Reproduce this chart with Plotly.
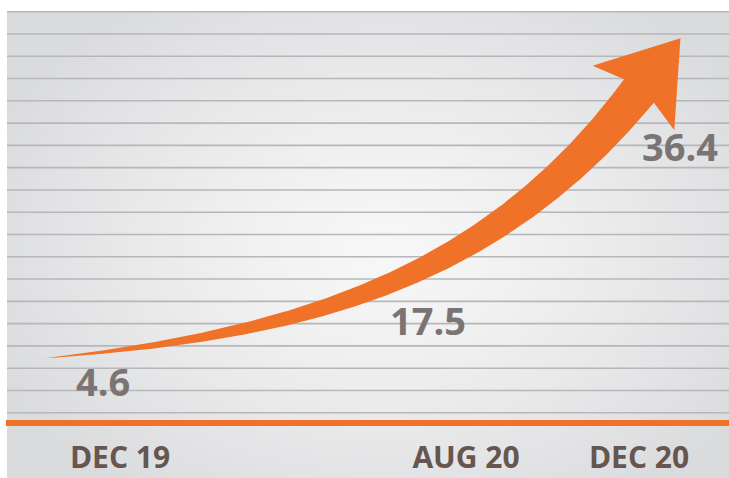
import base64
import struct
import zlib

import numpy as np
import pandas as pd
import plotly.graph_objects as go

# ---- data -------------------------------------------------------------
dates = ["2019-12-01", "2020-08-01", "2020-12-01"]
periods = ["DEC 19", "AUG 20", "DEC 20"]
values = [4.6, 17.5, 36.4]

# ---- canvas / scales ----------------------------------------------------
W, H = 729, 478
MARGIN_B = 55
PH = H - MARGIN_B                      # plot-area height in px

T0 = pd.Timestamp(dates[0])
X0_PX, KX = 120.0, 519.0 / 366.0       # px of first date, px per day
YR = [-4.36, 47.57]                    # y-axis range (value)
XR_DAYS = [-X0_PX / KX, (W - X0_PX) / KX]
XR = [str(T0 + pd.to_timedelta(d, unit="D")) for d in XR_DAYS]

ORANGE = "#f07229"
GRID = "#b7b6b8"
LABEL_DARK = "#66564f"
LABEL_GREY = "#7a7573"


def day_offsets(ts):
    return np.asarray((pd.to_datetime(ts) - T0) / pd.Timedelta(days=1), float)


def to_px(days, v):
    px = X0_PX + np.asarray(days, float) * KX
    py = (YR[1] - np.asarray(v, float)) / (YR[1] - YR[0]) * PH
    return px, py


def from_px(px, py):
    days = (np.asarray(px) - X0_PX) / KX
    v = YR[1] - np.asarray(py) / PH * (YR[1] - YR[0])
    return T0 + pd.to_timedelta(days, unit="D"), v


# ---- arrow: exponential growth curve through the three points ------------
ppx, ppy = to_px(day_offsets(dates), values)


def grow(L, x):
    return np.exp((np.asarray(x) - ppx[0]) / L)


ratio = (ppy[1] - ppy[2]) / (ppy[0] - ppy[1])
lo, hi = 20.0, 20000.0
for _ in range(200):
    L = 0.5 * (lo + hi)
    g = (grow(L, ppx[2]) - grow(L, ppx[1])) / (grow(L, ppx[1]) - grow(L, ppx[0]))
    if g > ratio:
        lo = L
    else:
        hi = L
A = (ppy[0] - ppy[1]) / (grow(L, ppx[1]) - grow(L, ppx[0]))
c0 = ppy[0] + A * grow(L, ppx[0])

xs = np.linspace(ppx[0] - 75.0, ppx[2], 400)
centre = np.column_stack([xs, c0 - A * grow(L, xs)])

d = np.gradient(centre, axis=0)
d /= np.linalg.norm(d, axis=1)[:, None]
normal = np.column_stack([d[:, 1], -d[:, 0]])
arc = np.concatenate([[0], np.cumsum(np.linalg.norm(np.diff(centre, axis=0), axis=1))])
half = 19.0 * arc / arc[-1]

upper = centre + normal * half[:, None]
lower = centre - normal * half[:, None]

C = centre[-1]
head_dir = d[-1]
nn = normal[-1]
head = np.array([
    C + 52 * nn - 9 * head_dir,
    C + 67 * head_dir,
    C - 52 * nn - 9 * head_dir,
])

poly = np.vstack([upper, head, lower[::-1], upper[:1]])
arrow_x, arrow_v = from_px(poly[:, 0], poly[:, 1])


# ---- background gradient image ------------------------------------------
def png_uri(rgb):
    h, w, _ = rgb.shape
    raw = b"".join(b"\x00" + rgb[r].tobytes() for r in range(h))

    def chunk(tag, data):
        return (struct.pack(">I", len(data)) + tag + data
                + struct.pack(">I", zlib.crc32(tag + data) & 0xFFFFFFFF))

    png = (b"\x89PNG\r\n\x1a\n"
           + chunk(b"IHDR", struct.pack(">IIBBBBB", w, h, 8, 2, 0, 0, 0))
           + chunk(b"IDAT", zlib.compress(raw, 9))
           + chunk(b"IEND", b""))
    return "data:image/png;base64," + base64.b64encode(png).decode()


BG_X0, BG_Y0 = 7, 11
gw, gh = (W - BG_X0) // 2, (H - BG_Y0) // 2
gx = BG_X0 + (np.arange(gw) + 0.5) * 2
gy = BG_Y0 + (np.arange(gh) + 0.5) * 2
GX, GY = np.meshgrid(gx, gy)
r = np.sqrt(((GX - 385) / 430) ** 2 + ((GY - 250) / 300) ** 2)
tt = np.clip(r, 0, 1) ** 1.3
c_in = np.array([247, 247, 247], float)
c_out = np.array([218, 219, 221], float)
img = c_in[None, None, :] * (1 - tt[..., None]) + c_out[None, None, :] * tt[..., None]
bg_uri = png_uri(np.round(img).astype(np.uint8))

# ---- figure -------------------------------------------------------------
fig = go.Figure()

fig.add_trace(go.Scatter(
    x=arrow_x, y=arrow_v, mode="lines", fill="toself",
    fillcolor=ORANGE, line=dict(width=0, color=ORANGE),
    hoverinfo="skip",
))

shapes = []
for i in range(19):
    py = 11.7 + i * 22.28
    yp = (PH - py) / PH
    shapes.append(dict(type="line", xref="paper", yref="paper",
                       x0=BG_X0 / W, x1=1, y0=yp, y1=yp,
                       line=dict(color=GRID, width=1.6), layer="below"))
shapes.append(dict(type="line", xref="paper", yref="paper",
                   x0=6 / W, x1=1, y0=0, y1=0,
                   line=dict(color=ORANGE, width=6), layer="above"))

label_shift = [(-17, -31), (-38, -75), (41, -55)]
annotations = []
for dt, v, (sx, sy) in zip(dates, values, label_shift):
    annotations.append(dict(
        x=dt, y=v, xref="x", yref="y", text=f"{v:.1f}", showarrow=False,
        xshift=sx, yshift=sy,
        font=dict(family="Open Sans", size=38, color=LABEL_GREY, weight=700),
    ))

fig.update_layout(
    width=W, height=H,
    margin=dict(l=0, r=0, t=0, b=MARGIN_B),
    paper_bgcolor="white",
    plot_bgcolor="rgba(0,0,0,0)",
    showlegend=False,
    images=[dict(source=bg_uri, xref="paper", yref="paper",
                 x=BG_X0 / W, y=(PH - BG_Y0) / PH,
                 sizex=(W - BG_X0) / W, sizey=(H - BG_Y0) / PH,
                 xanchor="left", yanchor="top", sizing="stretch",
                 layer="below")],
    shapes=shapes,
    annotations=annotations,
    xaxis=dict(type="date", range=XR, tickvals=dates, ticktext=periods,
               showgrid=False, zeroline=False, showline=False, ticks="",
               ticklabelstandoff=14,
               tickfont=dict(family="Open Sans", size=30,
                             color=LABEL_DARK, weight=700)),
    yaxis=dict(range=YR, visible=False),
)

fig.write_html("out.html")
